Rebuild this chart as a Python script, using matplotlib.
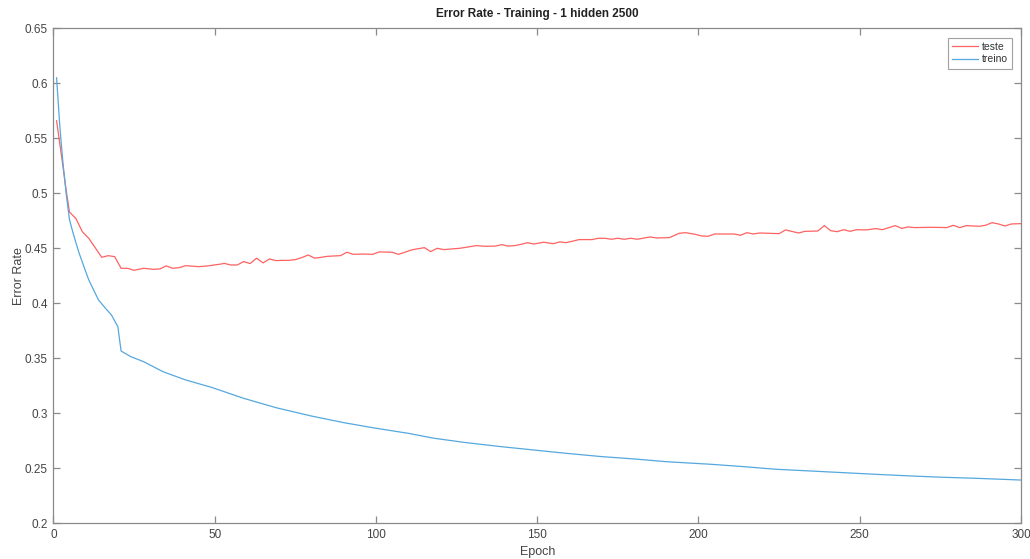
import numpy as np
import matplotlib
matplotlib.use("Agg")
import matplotlib.pyplot as plt

plt.rcParams['font.family'] = ['Liberation Sans', 'DejaVu Sans']

# test-set error rate (epoch, value)
teste_epochs = [1, 2, 3, 4, 5, 7, 9, 11, 15, 17, 19, 21, 23, 25, 28, 31, 33, 35, 37, 39,
                41, 45, 48, 52, 53, 55, 57, 59, 61, 63, 65, 67, 69, 71, 73, 75, 77, 79, 81, 83,
                85, 89, 91, 93, 96, 99, 101, 105, 107, 109, 111, 115, 117, 119, 121, 126, 128, 131, 134, 137,
                139, 141, 143, 145, 147, 149, 152, 155, 157, 159, 163, 167, 169, 171, 173, 175, 177, 179, 181, 185,
                187, 191, 194, 196, 199, 201, 203, 205, 208, 211, 213, 215, 217, 219, 225, 227, 231, 233, 237, 239,
                241, 243, 245, 247, 249, 252, 255, 257, 261, 263, 265, 267, 272, 277, 279, 281, 283, 287, 289, 291,
                293, 295, 297, 300]
teste_err = [0.566, 0.545, 0.524, 0.502, 0.483, 0.477, 0.465, 0.459, 0.4418, 0.4433, 0.4424, 0.4318, 0.4318, 0.430, 0.4318, 0.4309, 0.4312, 0.434, 0.4318, 0.4324,
             0.4342, 0.4333, 0.434, 0.4357, 0.4363, 0.4348, 0.4348, 0.4379, 0.4361, 0.441, 0.4367, 0.4403, 0.4388, 0.439, 0.439, 0.4397, 0.4415, 0.4439, 0.441, 0.4418,
             0.4427, 0.4433, 0.4464, 0.4445, 0.4448, 0.4445, 0.4467, 0.4464, 0.4445, 0.4464, 0.4485, 0.4506, 0.447, 0.450, 0.4488, 0.450, 0.4509, 0.4524, 0.4518, 0.452,
             0.4533, 0.452, 0.4524, 0.4536, 0.4551, 0.4539, 0.4555, 0.4542, 0.4558, 0.4551, 0.4579, 0.4579, 0.4591, 0.4591, 0.4582, 0.4591, 0.4582, 0.4591, 0.4582, 0.4603,
             0.4594, 0.4597, 0.4636, 0.4642, 0.4627, 0.4612, 0.4609, 0.463, 0.463, 0.463, 0.4618, 0.4642, 0.463, 0.4639, 0.4633, 0.4667, 0.4639, 0.4654, 0.4657, 0.4706,
             0.466, 0.4651, 0.4669, 0.4654, 0.4669, 0.4667, 0.4679, 0.4669, 0.4706, 0.4681, 0.4694, 0.4688, 0.4691, 0.4688, 0.4709, 0.4688, 0.4706, 0.470, 0.4709, 0.4733,
             0.4721, 0.4703, 0.4721, 0.4724]

# training-set error rate (epoch, value)
treino_epochs = [1, 2, 3, 4, 5, 6, 7, 8, 10, 11, 12, 14, 16, 18, 20, 21, 24, 28, 34, 41, 49,
                 59, 69, 80, 90, 100, 110, 118, 128, 139, 149, 159, 170, 180, 190, 204, 214, 224, 235, 245,
                 255, 266, 276, 286, 300]
treino_err = [0.605, 0.561, 0.527, 0.499, 0.476, 0.465, 0.455, 0.4455, 0.429, 0.4212, 0.415, 0.403, 0.396, 0.3894, 0.3787, 0.3566, 0.3515, 0.3469, 0.3378, 0.3303, 0.3236,
              0.3136, 0.3051, 0.2975, 0.2915, 0.2864, 0.2818, 0.2773, 0.2733, 0.2696, 0.2666, 0.2636, 0.2606, 0.2585, 0.256, 0.2536, 0.2515, 0.2491, 0.2475, 0.246,
              0.2445, 0.243, 0.2418, 0.2409, 0.2393]

x_ticks = [0, 50, 100, 150, 200, 250, 300]
y_ticks = [0.2, 0.25, 0.3, 0.35, 0.4, 0.45, 0.5, 0.55, 0.6, 0.65]
y_labels = ['0.2', '0.25', '0.3', '0.35', '0.4', '0.45', '0.5', '0.55', '0.6', '0.65']

fig = plt.figure(figsize=(10.30, 5.59), dpi=100)
ax = fig.add_axes([0.0518, 0.0639, 0.9395, 0.8855])

ax.plot(teste_epochs, teste_err, color='#ff6262', lw=0.9, label='teste')
ax.plot(treino_epochs, treino_err, color='#55a8de', lw=0.9, label='treino')

ax.set_xlim(0, 300)
ax.set_ylim(0.2, 0.65)
ax.set_xticks(x_ticks)
ax.set_yticks(y_ticks)
ax.set_yticklabels(y_labels)

axis_gray = '#8a8a8a'
for sp in ax.spines.values():
    sp.set_color(axis_gray)
    sp.set_linewidth(0.9)
ax.tick_params(direction='in', top=True, right=True, length=5, width=0.9,
               color=axis_gray, labelcolor='#444444', labelsize=8.5, pad=4)

ax.set_title('Error Rate - Training - 1 hidden 2500', fontsize=8.5,
             fontweight='bold', color='#222222', pad=8)
ax.set_xlabel('Epoch', fontsize=9, color='#444444', labelpad=4)
ax.set_ylabel('Error Rate', fontsize=9, color='#444444', labelpad=0)

leg = ax.legend(loc='upper right', fontsize=7.5, frameon=True, fancybox=False,
                handlelength=2.5, handletextpad=0.3, borderpad=0.4,
                labelspacing=0.25, borderaxespad=0.9)
leg.get_frame().set_edgecolor('#8a8a8a')
leg.get_frame().set_linewidth(0.8)
for t in leg.get_texts():
    t.set_color('#333333')

fig.savefig('out.png', dpi=100)
